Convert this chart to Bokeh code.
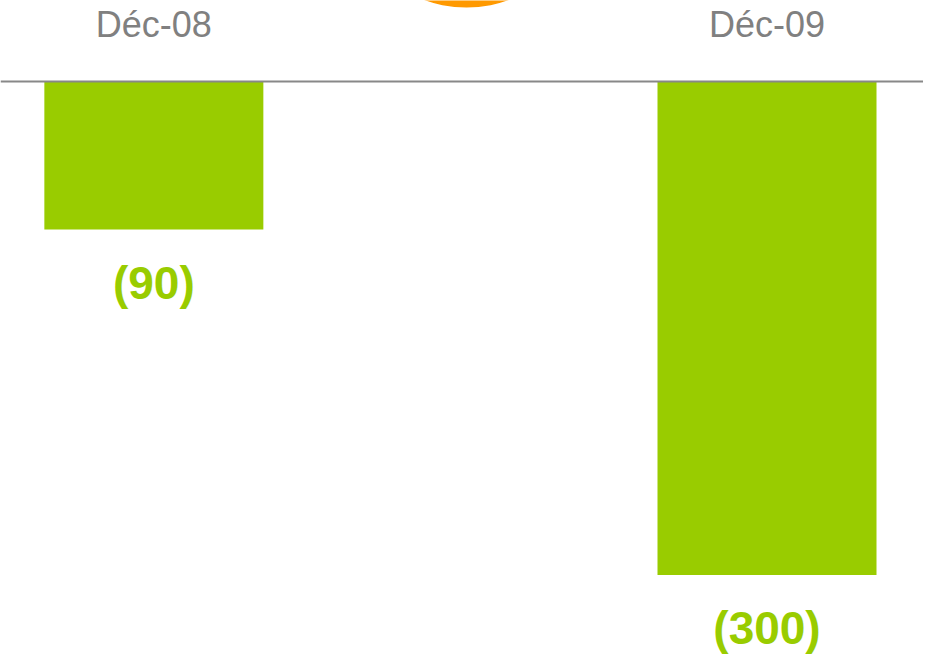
from bokeh.plotting import figure
from bokeh.models import Range1d, Span, ColumnDataSource
from bokeh.core.properties import value
from bokeh.embed import file_html
from bokeh.resources import INLINE

# ---- data ----
categories = ["Déc-08", "Déc-09"]
values = [-90, -300]
value_labels = ["(90)", "(300)"]

GREEN = "#99CC00"
ORANGE = "#FF9900"
GRAY_TXT = "#808080"
GRAY_LINE = "#888888"

W, H = 923, 655
# scales: pixels per unit
kx = 613.15
ky = 1.645
x0_px = 153.35   # frame pixel of first category
zero_px = 81.0   # frame pixel (from top) of the zero line

x_start = -x0_px / kx
x_end = x_start + W / kx
y_end = zero_px / ky
y_start = y_end - H / ky

xs = list(range(len(categories)))

p = figure(width=W, height=H, output_backend="svg", toolbar_location=None,
           x_range=Range1d(x_start, x_end), y_range=Range1d(y_start, y_end),
           x_axis_type=None, y_axis_type=None, min_border=0,
           outline_line_color=None)
p.grid.visible = False
p.background_fill_color = "white"
p.border_fill_color = "white"

src = ColumnDataSource(dict(
    x=xs, top=[0] * len(values), bottom=values, cat=categories,
    lab=value_labels,
    cat_y=[57 / ky] * len(categories),
    lab_y=[v - 53 / ky for v in values],
))

# decorative orange bubble, mostly above the visible area (screen-pixel geometry)
bub_r_px, bub_cx_px, bub_cy_px = 123.6, 466.0, -116.6
p.circle(x=[x_start + bub_cx_px / kx], y=[(zero_px - bub_cy_px) / ky],
         radius=bub_r_px / ky, radius_dimension="y",
         fill_color=ORANGE, line_color=None)

p.vbar(x="x", top="top", bottom="bottom", width=219 / kx, source=src,
       fill_color=GREEN, line_color=None)

p.add_layout(Span(location=0, dimension="width", line_color=GRAY_LINE,
                  line_width=2))

p.text(x="x", y="cat_y", text="cat", source=src, text_align="center",
       text_baseline="alphabetic", text_color=GRAY_TXT,
       text_font=value("Liberation Sans"), text_font_size="36px")

p.text(x="x", y="lab_y", text="lab", source=src, text_align="center",
       text_baseline="alphabetic", text_color=GREEN,
       text_font=value("Liberation Sans"), text_font_size="46px",
       text_font_style="bold")

open("out.html", "w").write(file_html(p, INLINE))
